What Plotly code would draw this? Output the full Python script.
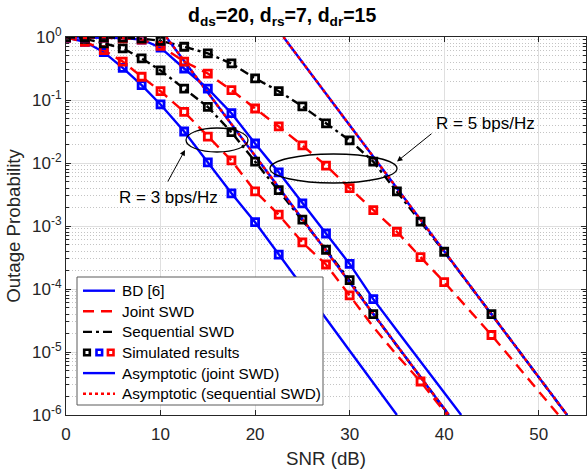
import plotly.graph_objects as go

# ---------------- data: SNR (dB) vs outage probability ----------------
# R = 3 bps/Hz
snr_bd3 = [0, 2, 4, 6, 8, 10, 12.5, 15, 17.5, 20, 22.5, 25, 27.5, 30, 32.5, 35]
p_bd3 = [0.98, 0.84, 0.575, 0.324, 0.172, 0.085, 0.0316, 0.0102, 0.0033, 1.15e-3,
         3.5e-4, 1.1e-4, 3.4e-5, 1.05e-5, 3.2e-6, 1.0e-6]
sim_bd3 = [0, 2, 4, 6, 8, 10, 12.5, 15, 17.5, 20, 22.5]

snr_js3 = [0, 2, 4, 6, 8, 10, 12.5, 15, 17.5, 20, 22.5, 25, 27.5, 30, 32.5, 35, 37.5, 40.3]
p_js3 = [0.977, 0.841, 0.617, 0.407, 0.234, 0.138, 0.0646, 0.0263, 0.011, 3.55e-3,
         1.51e-3, 5.5e-4, 2.45e-4, 7.9e-5, 2.5e-5, 8.9e-6, 3.4e-6, 1.0e-6]
sim_js3 = [0, 2, 4, 6, 8, 10, 12.5, 15, 17.5, 20, 22.5, 25, 27.5, 30, 37.5]

snr_ss3 = [0, 2, 4, 6, 8, 10, 12.5, 15, 17.5, 20, 22.5, 25, 27.5, 30, 32.5, 35, 37.5, 40.5]
p_ss3 = [0.989, 0.933, 0.794, 0.661, 0.457, 0.295, 0.151, 0.0776, 0.0309, 0.0105,
         3.7e-3, 1.26e-3, 4.2e-4, 1.38e-4, 4.0e-5, 1.26e-5, 4.0e-6, 1.0e-6]
sim_ss3 = [0, 2, 4, 6, 8, 10, 12.5, 15, 17.5, 20, 22.5, 25, 27.5, 30, 32.5]

# R = 5 bps/Hz
snr_bd5 = [0, 2, 4, 6, 8, 10, 12.5, 15, 17.5, 20, 22.5, 25, 27.5, 30, 32.5, 35, 37.5, 40, 41.8]
p_bd5 = [0.989, 0.989, 0.977, 0.966, 0.912, 0.676, 0.316, 0.151, 0.0617, 0.0204,
         7.1e-3, 2.29e-3, 7.6e-4, 2.5e-4, 6.9e-5, 2.2e-5, 7.1e-6, 2.3e-6, 1.0e-6]
sim_bd5 = [0, 2, 4, 6, 8, 10, 12.5, 15, 17.5, 20, 22.5, 25, 27.5, 30, 32.5]

snr_js5 = [0, 2, 4, 6, 8, 10, 12.5, 15, 17.5, 20, 22.5, 25, 27.5, 30, 32.5, 35, 37.5, 40, 45, 50, 52.1]
p_js5 = [0.989, 0.989, 0.977, 0.955, 0.912, 0.724, 0.407, 0.263, 0.143, 0.0733, 0.038,
         0.019, 9.1e-3, 4.0e-3, 1.78e-3, 8.1e-4, 3.2e-4, 1.29e-4, 1.86e-5, 2.4e-6, 1.0e-6]
sim_js5 = [0, 2, 4, 6, 8, 10, 12.5, 15, 17.5, 20, 22.5, 25, 27.5, 30, 32.5, 35, 37.5, 40, 45]

snr_ss5 = [0, 2, 4, 6, 8, 10, 12.5, 15, 17.5, 20, 22.5, 25, 27.5, 30, 32.5, 35, 37.5, 40, 45, 50, 53]
p_ss5 = [0.993, 0.993, 0.989, 0.977, 0.944, 0.871, 0.70, 0.55, 0.38, 0.221, 0.138,
         0.0794, 0.0427, 0.0229, 0.0105, 3.55e-3, 1.17e-3, 3.9e-4, 4.0e-5, 4.0e-6, 1.0e-6]
sim_ss5 = [0, 2, 4, 6, 8, 10, 12.5, 15, 17.5, 20, 22.5, 25, 27.5, 30, 32.5, 35, 37.5, 40, 45]

# high-SNR asymptotes (identical for joint and sequential SWD)
snr_asym3 = [10.6, 40.5]
p_asym3 = [1.0, 1e-6]
snr_asym5 = [23.0, 53.0]
p_asym5 = [1.0, 1e-6]

y_tick_vals = [1e-6, 1e-5, 1e-4, 1e-3, 1e-2, 1e-1, 1]
y_tick_text = ["10<sup>-6</sup>", "10<sup>-5</sup>", "10<sup>-4</sup>", "10<sup>-3</sup>",
               "10<sup>-2</sup>", "10<sup>-1</sup>", "10<sup>0</sup>"]
x_tick_vals = [0, 10, 20, 30, 40, 50]

# ---------------- styling ----------------
BLUE, RED, BLACK = "#0000ff", "#ff0000", "#000000"
LW = 2.4
DASH_JOINT = "11px,7px"
DASH_SEQ = "9px,4px,3px,4px"
DOT_ASYM = "3px,3px"
FONT = "Liberation Sans, Arial, Helvetica, sans-serif"
AXC = "#262626"

W, H = 587, 472
L, R, T, B = 66, 586, 37, 415
TITLE_SHIFT = 47  # the subscript spans push the rendered title to the right


def px(x):
    return (x - L) / (R - L)


def py(y):
    return (B - y) / (B - T)


def pick(snr, p, sel):
    lut = dict(zip(snr, p))
    return sel, [lut[s] for s in sel]


fig = go.Figure()

curves = [
    (snr_bd3, p_bd3, sim_bd3, BLUE, "solid"),
    (snr_js3, p_js3, sim_js3, RED, DASH_JOINT),
    (snr_ss3, p_ss3, sim_ss3, BLACK, DASH_SEQ),
    (snr_bd5, p_bd5, sim_bd5, BLUE, "solid"),
    (snr_js5, p_js5, sim_js5, RED, DASH_JOINT),
    (snr_ss5, p_ss5, sim_ss5, BLACK, DASH_SEQ),
]

# analytical curves
for snr, p, _, col, dash in curves:
    fig.add_trace(go.Scatter(x=snr, y=p, mode="lines",
                             line=dict(color=col, width=LW, dash=dash),
                             showlegend=False, hoverinfo="skip"))

# asymptotes: joint (blue solid) under sequential (red dotted)
for snr, p in [(snr_asym3, p_asym3), (snr_asym5, p_asym5)]:
    fig.add_trace(go.Scatter(x=snr, y=p, mode="lines",
                             line=dict(color=BLUE, width=LW), showlegend=False))
    fig.add_trace(go.Scatter(x=snr, y=p, mode="lines",
                             line=dict(color=RED, width=LW, dash=DOT_ASYM), showlegend=False))

# simulated points
for snr, p, sel, col, _ in curves:
    xs, ys = pick(snr, p, sel)
    fig.add_trace(go.Scatter(x=xs, y=ys, mode="markers",
                             marker=dict(symbol="square-open", size=7, color=col,
                                         line=dict(color=col, width=2.8)),
                             showlegend=False))

shapes = []
annotations = []

# title
annotations.append(dict(xref="paper", yref="paper", x=px(233 - TITLE_SHIFT), y=py(17),
                        text="<b>d<sub>ds</sub>=20, d<sub>rs</sub>=7, d<sub>dr</sub>=15</b>",
                        showarrow=False, xanchor="left", yanchor="middle",
                        font=dict(family=FONT, size=19.5, color=BLACK)))

# grouping ellipses
shapes.append(dict(type="circle", xref="paper", yref="paper",
                   x0=px(186), x1=px(248), y0=py(152), y1=py(128),
                   line=dict(color=BLACK, width=1.3)))
shapes.append(dict(type="circle", xref="paper", yref="paper",
                   x0=px(270), x1=px(397), y0=py(183), y1=py(154),
                   line=dict(color=BLACK, width=1.3)))

# rate labels with arrows
annotations.append(dict(xref="paper", yref="paper", x=px(185), y=py(150), text="",
                        showarrow=True, ax=-18, ay=33, arrowhead=2, arrowsize=1.1,
                        arrowwidth=1, arrowcolor=BLACK))
annotations.append(dict(xref="paper", yref="paper", x=px(397), y=py(161.5), text="",
                        showarrow=True, ax=36, ay=-29, arrowhead=2, arrowsize=1.1,
                        arrowwidth=1, arrowcolor=BLACK))
annotations.append(dict(xref="paper", yref="paper", x=px(168), y=py(197),
                        text="R = 3 bps/Hz", showarrow=False, xanchor="center", yanchor="middle",
                        font=dict(family=FONT, size=17, color=BLACK)))
annotations.append(dict(xref="paper", yref="paper", x=px(485), y=py(124),
                        text="R = 5 bps/Hz", showarrow=False, xanchor="center", yanchor="middle",
                        font=dict(family=FONT, size=17, color=BLACK)))

# legend box
shapes.append(dict(type="rect", xref="paper", yref="paper",
                   x0=px(77), x1=px(323), y0=py(405), y1=py(277),
                   fillcolor="white", line=dict(color="#5a5a5a", width=1)))

legend_rows = [
    ("BD [6]", "line", BLUE, "solid"),
    ("Joint SWD", "line", RED, DASH_JOINT),
    ("Sequential SWD", "line", BLACK, DASH_SEQ),
    ("Simulated results", "markers", None, None),
    ("Asymptotic (joint SWD)", "line", BLUE, "solid"),
    ("Asymptotic (sequential SWD)", "line", RED, DOT_ASYM),
]
row0, dy = 290.7, 20.6
for i, (label, kind, col, dash) in enumerate(legend_rows):
    yc = row0 + i * dy
    if kind == "line":
        shapes.append(dict(type="line", xref="paper", yref="paper",
                           x0=px(83), x1=px(115), y0=py(yc), y1=py(yc),
                           line=dict(color=col, width=LW, dash=dash)))
    else:
        for xc, c in [(87, BLACK), (99.3, BLUE), (110.7, RED)]:
            shapes.append(dict(type="rect", xref="paper", yref="paper",
                               x0=px(xc - 2.8), x1=px(xc + 2.8),
                               y0=py(yc + 2.8), y1=py(yc - 2.8),
                               fillcolor="white", line=dict(color=c, width=2.6)))
    annotations.append(dict(xref="paper", yref="paper", x=px(119.5), y=py(yc),
                            text=label, showarrow=False, xanchor="left", yanchor="middle",
                            font=dict(family=FONT, size=15.3, color=BLACK)))

minor_y = [k * 10.0 ** e for e in range(-6, 0) for k in range(2, 10)]

fig.update_layout(
    width=W, height=H,
    margin=dict(l=L, r=W - R, t=T, b=H - B),
    paper_bgcolor="white", plot_bgcolor="white",
    showlegend=False,
    shapes=shapes,
    annotations=annotations,
    xaxis=dict(range=[0, 55], tickvals=x_tick_vals, showgrid=True, gridcolor="#dfdfdf",
               gridwidth=1, zeroline=False, showline=True, linecolor=AXC, linewidth=1,
               mirror="ticks", ticks="inside", ticklen=5, tickcolor=AXC,
               ticklabelstandoff=4,
               tickfont=dict(family=FONT, size=17, color=AXC),
               title=dict(text="SNR (dB)", font=dict(family=FONT, size=18.7, color=AXC),
                          standoff=8)),
    yaxis=dict(type="log", range=[-6, 0], tickvals=y_tick_vals, ticktext=y_tick_text,
               showgrid=True, gridcolor="#dfdfdf", gridwidth=1, zeroline=False,
               showline=True, linecolor=AXC, linewidth=1, mirror="ticks",
               ticks="inside", ticklen=5, tickcolor=AXC,
               tickfont=dict(family=FONT, size=17, color=AXC),
               minor=dict(tickvals=minor_y, ticks="inside", ticklen=3, tickcolor=AXC,
                          showgrid=True, gridcolor="#c4c4c4", griddash="1px,2px"),
               title=dict(text="Outage Probability",
                          font=dict(family=FONT, size=18.7, color=AXC), standoff=6)),
)

fig.write_html("out.html")
